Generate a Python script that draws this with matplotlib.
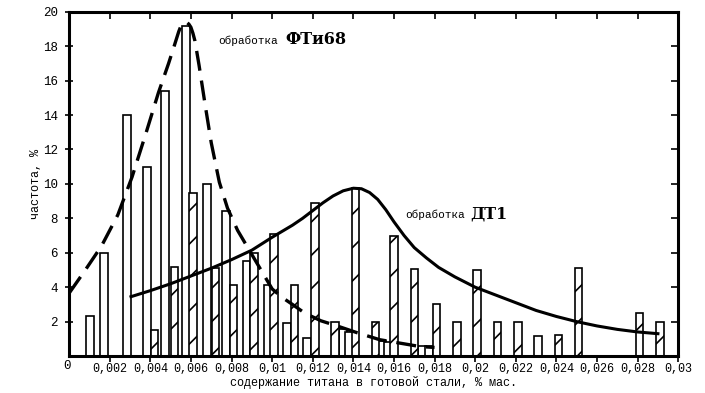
import matplotlib.pyplot as plt
import matplotlib as mpl

# ФТи68 treatment (open bars), x in % mass, frequency in %
fti_x = [0.00103, 0.00172, 0.00286, 0.00384, 0.00473, 0.00576, 0.00680, 0.00773,
         0.00874, 0.00978, 0.01074, 0.01172, 0.01350, 0.01379, 0.01542, 0.01571,
         0.01739, 0.01773]
fti_h = [2.3, 6.0, 14.0, 11.0, 15.4, 19.2, 10.0, 8.4,
         5.5, 4.1, 1.9, 1.05, 1.6, 1.4, 0.9, 0.8,
         0.6, 0.6]

# ДТ1 treatment (hatched bars)
dt_x = [0.0042, 0.0052, 0.0061, 0.0072, 0.0081, 0.0091, 0.0101, 0.0111,
        0.0121, 0.0131, 0.0141, 0.0151, 0.0160, 0.0170, 0.0181, 0.0191,
        0.0201, 0.0211, 0.0221, 0.0231, 0.0241, 0.0251, 0.0281, 0.0291]
dt_h = [1.5, 5.2, 9.5, 5.1, 4.1, 6.0, 7.1, 4.1,
        8.9, 2.0, 9.75, 2.0, 7.0, 5.05, 3.0, 2.0,
        5.0, 2.0, 2.0, 1.15, 1.2, 5.1, 2.5, 2.0]

# hand-drawn fitted curves
fti_curve_x = [0.0, 0.0008, 0.0016, 0.0024, 0.0031, 0.0038, 0.0044, 0.0049,
               0.0052, 0.0054, 0.0055, 0.0056, 0.0057, 0.0058, 0.0059, 0.0060,
               0.0061, 0.0062, 0.0064, 0.0067,
               0.0070, 0.0074, 0.0078, 0.0083, 0.0089, 0.0095, 0.0100, 0.0105,
               0.0110, 0.0116, 0.0124, 0.0132, 0.0142, 0.0153, 0.0163, 0.0173,
               0.0180]
fti_curve_y = [3.65, 5.0, 6.4, 8.2, 10.4, 13.0, 15.3, 17.0,
               18.1, 18.85, 19.15, 19.32, 19.4, 19.38, 19.28, 19.1,
               18.75, 18.3, 16.9, 14.6,
               12.4, 10.1, 8.6, 7.3, 6.1, 4.9, 3.9, 3.4,
               3.0, 2.5, 2.05, 1.75, 1.35, 0.95, 0.75, 0.55,
               0.5]

dt_curve_x = [0.00305, 0.0040, 0.0050, 0.0060, 0.0070, 0.0080, 0.0090, 0.0100,
              0.0110, 0.0115, 0.0120, 0.0125, 0.0130, 0.0135, 0.0140, 0.0144,
              0.0148, 0.0152, 0.0156, 0.0160, 0.0165, 0.0170, 0.0176, 0.0182,
              0.0190, 0.0200, 0.0210, 0.0220, 0.0230, 0.0240, 0.0250, 0.0260,
              0.0270, 0.0280, 0.0290]
dt_curve_y = [3.45, 3.8, 4.2, 4.65, 5.1, 5.6, 6.15, 6.9,
              7.6, 8.0, 8.45, 8.9, 9.3, 9.6, 9.75, 9.72,
              9.5, 9.1, 8.5, 7.8, 7.0, 6.3, 5.7, 5.15,
              4.6, 4.0, 3.55, 3.1, 2.65, 2.3, 2.0, 1.75,
              1.55, 1.4, 1.3]

xticks = [0.002, 0.004, 0.006, 0.008, 0.01, 0.012, 0.014, 0.016,
          0.018, 0.02, 0.022, 0.024, 0.026, 0.028, 0.03]
xtick_labels = ["0,002", "0,004", "0,006", "0,008", "0,01", "0,012", "0,014", "0,016",
                "0,018", "0,02", "0,022", "0,024", "0,026", "0,028", "0,03"]
yticks = [2, 4, 6, 8, 10, 12, 14, 16, 18, 20]

mono = "Liberation Mono"
mpl.rcParams["hatch.linewidth"] = 1.2

fig = plt.figure(figsize=(7.05, 3.93), dpi=100)
ax = fig.add_axes([0.098, 0.094, 0.864, 0.876])

bw = 0.00037
ax.bar(fti_x, fti_h, width=bw, facecolor="white", edgecolor="black", linewidth=1.2, zorder=2)
ax.bar(dt_x, dt_h, width=bw, facecolor="white", edgecolor="black", linewidth=1.2,
       hatch="/", zorder=2)

ax.plot(fti_curve_x, fti_curve_y, color="black", linewidth=2.4, dashes=(6, 3),
        solid_joinstyle="round", dash_joinstyle="round", zorder=3)
ax.plot(dt_curve_x, dt_curve_y, color="black", linewidth=2.2, zorder=3)

ax.set_xlim(0, 0.03)
ax.set_ylim(0, 20)

for s in ax.spines.values():
    s.set_linewidth(2.2)

ax.set_xticks(xticks)
ax.set_xticklabels(xtick_labels, fontfamily=mono, fontsize=8.5)
ax.set_yticks(yticks)
ax.set_yticklabels([str(v) for v in yticks], fontfamily=mono, fontsize=9)
ax.tick_params(axis="x", direction="out", length=4, width=1.2, pad=1)
ax.tick_params(axis="y", direction="inout", length=6, width=1.2, pad=5)

# inward ticks on the top and right frame
top = ax.secondary_xaxis("top")
top.set_xticks(xticks)
top.set_xticklabels([])
top.tick_params(direction="in", length=5, width=1.2)
top.spines["top"].set_visible(False)
right = ax.secondary_yaxis("right")
right.set_yticks(yticks)
right.set_yticklabels([])
right.tick_params(direction="in", length=5, width=1.2)
right.spines["right"].set_visible(False)

ax.text(-0.0001, -0.55, "0", ha="center", va="center", fontfamily=mono, fontsize=9)

ax.set_xlabel("содержание титана в готовой стали, % мас.", fontfamily=mono, fontsize=8.5,
              labelpad=1)
ax.set_ylabel("частота, %", fontfamily=mono, fontsize=8.5)
ax.yaxis.set_label_coords(-0.045, 0.5)

ax.text(0.00734, 18.1, "обработка", fontfamily=mono, fontsize=8, va="baseline")
ax.text(0.01064, 18.1, "ФТи68", fontfamily="DejaVu Serif", fontsize=11.5,
        fontweight="bold", va="baseline")
ax.text(0.01655, 8.0, "обработка", fontfamily=mono, fontsize=8, va="baseline")
ax.text(0.01975, 8.0, "ДТ1", fontfamily="DejaVu Serif", fontsize=11.5,
        fontweight="bold", va="baseline")

fig.savefig("out.png", dpi=100)
